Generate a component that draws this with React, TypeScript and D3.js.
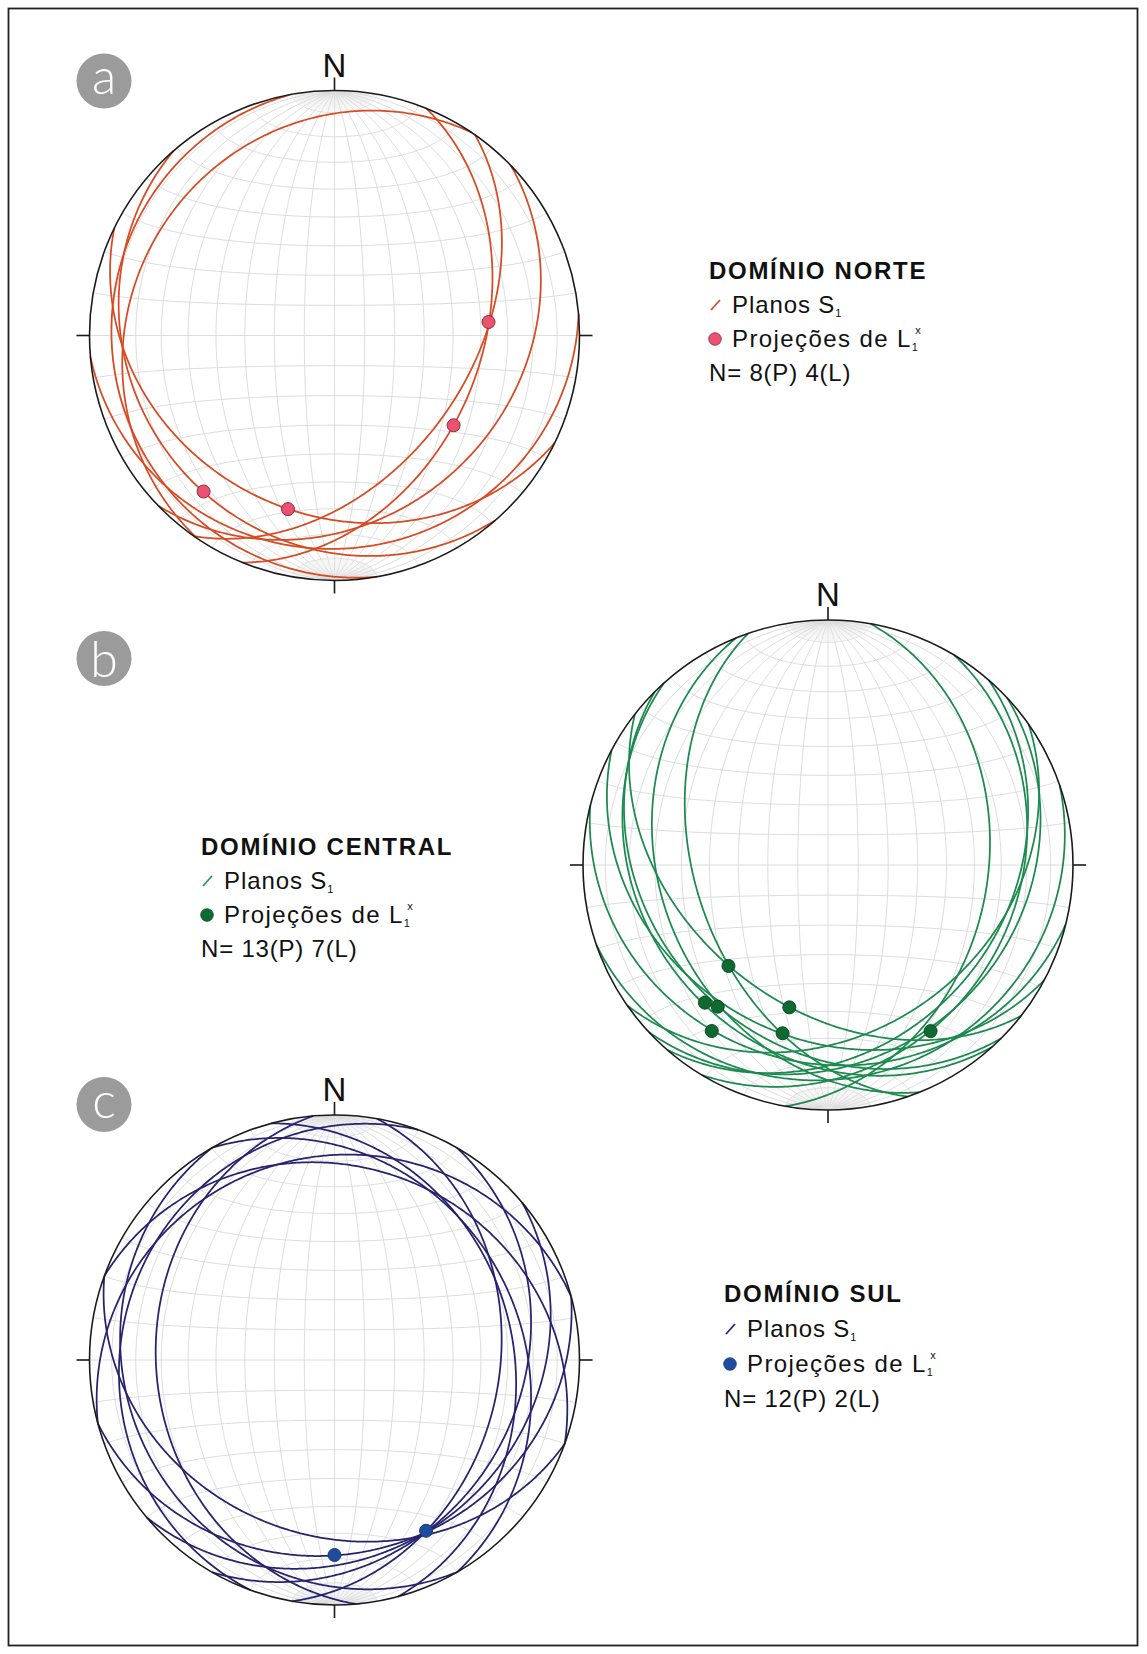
import React from 'react';
import * as d3 from 'd3';

const W = 1147;
const H = 1654;

// ---------- DATA ----------
// Domínio Norte (a): S1 planes as dip direction / dip (degrees)
const norteDipDir = [304, 112, 125, 136, 260, 175, 206, 229];
const norteDip = [18, 40, 44, 27, 10, 14, 28, 18];
// L1x lineations: trend / plunge
const norteLinTrend = [85, 127, 195, 220];
const norteLinPlunge = [37, 39, 27.5, 18];

// Domínio Central (b)
const centralDipDir = [251, 248, 228, 225, 218, 194, 100, 121, 131, 137, 208, 161, 145];
const centralDip = [45, 32, 25, 28, 42, 20, 35, 24, 28, 23, 30, 14, 32];
const centralLinTrend = [224.6, 221.8, 217.9, 195.2, 215, 195.1, 148.3];
const centralLinPlunge = [41.7, 25.6, 27.6, 39.6, 18.4, 29.6, 21.4];

// Domínio Sul (c)
const sulDipDir = [20, 345, 100, 75, 120, 60, 140, 265, 290, 200, 165, 240];
const sulDip = [22, 18, 33, 28, 25, 25, 22, 28, 14, 29, 22, 16];
const sulLinTrend = [180, 151.8];
const sulLinPlunge = [21.5, 22];

const panelLetters = ['a', 'b', 'c'];
const legendTitles = ['DOMÍNIO NORTE', 'DOMÍNIO CENTRAL', 'DOMÍNIO SUL'];
const legendCounts = ['N= 8(P) 4(L)', 'N= 13(P) 7(L)', 'N= 12(P) 2(L)'];

// ---------- GEOMETRY ----------
const rad = Math.PI / 180;
type V3 = [number, number, number];

// lower-hemisphere equal-area (Schmidt) projection onto unit disk, y down
function proj(v: V3): [number, number] {
  let [e, n, d] = v;
  if (d < 0) { e = -e; n = -n; d = -d; }
  const k = 1 / Math.sqrt(1 + d);
  return [e * k, -n * k];
}

function planeVectors(dd: number, dip: number): V3[] {
  const s = (dd - 90) * rad;
  const D = dd * rad;
  const dr = dip * rad;
  const sv: V3 = [Math.sin(s), Math.cos(s), 0];
  const dv: V3 = [Math.sin(D) * Math.cos(dr), Math.cos(D) * Math.cos(dr), Math.sin(dr)];
  return d3.range(0, 180.25, 0.5).map((l) => {
    const c = Math.cos(l * rad), si = Math.sin(l * rad);
    return [c * sv[0] + si * dv[0], c * sv[1] + si * dv[1], c * sv[2] + si * dv[2]] as V3;
  });
}

function lineVector(trend: number, plunge: number): V3 {
  return [
    Math.sin(trend * rad) * Math.cos(plunge * rad),
    Math.cos(trend * rad) * Math.cos(plunge * rad),
    Math.sin(plunge * rad),
  ];
}

function meridian(delta: number, from: number, to: number): V3[] {
  return d3.range(from, to + 0.001, 1).map((l) => [
    Math.sin(l * rad) * Math.cos(delta * rad),
    Math.cos(l * rad),
    Math.sin(l * rad) * Math.sin(delta * rad),
  ] as V3);
}

function parallel(phi: number): V3[] {
  return d3.range(0, 180.001, 1).map((p) => [
    Math.sin(phi * rad) * Math.cos(p * rad),
    Math.cos(phi * rad),
    Math.sin(phi * rad) * Math.sin(p * rad),
  ] as V3);
}

type NetProps = {
  cx: number; cy: number; R: number;
  dipDir: number[]; dip: number[];
  linTrend: number[]; linPlunge: number[];
  lineColor: string; dotFill: string; dotStroke: string; dotR: number;
};

function Stereonet(p: NetProps) {
  const { cx, cy, R } = p;
  const sx = d3.scaleLinear().domain([-1, 1]).range([cx - R, cx + R]);
  const sy = d3.scaleLinear().domain([-1, 1]).range([cy - R, cy + R]);
  const line = d3.line<[number, number]>().x((d) => sx(d[0])).y((d) => sy(d[1]));
  const toPath = (vs: V3[]) => line(vs.map(proj)) || '';

  const major: string[] = [];
  const minor: string[] = [];
  d3.range(10, 171, 10).forEach((dl) => major.push(toPath(meridian(dl, 0, 180))));
  d3.range(10, 171, 10).forEach((ph) => major.push(toPath(parallel(ph))));
  d3.range(2, 179, 2).filter((dl) => dl % 10 !== 0).forEach((dl) => {
    minor.push(toPath(meridian(dl, 1.5, 10)));
    minor.push(toPath(meridian(dl, 170, 178.5)));
  });

  const tick = 13;
  return (
    <g>
      <circle cx={cx} cy={cy} r={R} fill="#ffffff" />
      {minor.map((d, i) => (
        <path key={'m' + i} d={d} fill="none" stroke="#dedede" strokeWidth={0.35} />
      ))}
      {major.map((d, i) => (
        <path key={'g' + i} d={d} fill="none" stroke="#d8d8d8" strokeWidth={0.9} />
      ))}
      {p.dipDir.map((dd, i) => (
        <path key={'p' + i} d={toPath(planeVectors(dd, p.dip[i]))} fill="none"
          stroke={p.lineColor} strokeWidth={1.75} />
      ))}
      <circle cx={cx} cy={cy} r={R} fill="none" stroke="#1a1a1a" strokeWidth={1.6} />
      <line x1={cx} x2={cx} y1={cy - R} y2={cy - R - tick} stroke="#1a1a1a" strokeWidth={1.6} />
      <line x1={cx} x2={cx} y1={cy + R} y2={cy + R + tick} stroke="#1a1a1a" strokeWidth={1.6} />
      <line x1={cx - R} x2={cx - R - tick} y1={cy} y2={cy} stroke="#1a1a1a" strokeWidth={1.6} />
      <line x1={cx + R} x2={cx + R + tick} y1={cy} y2={cy} stroke="#1a1a1a" strokeWidth={1.6} />
      <text x={cx} y={cy - R - tick - 1} textAnchor="middle" fontSize={33}
        fontFamily="Arial, 'Liberation Sans', sans-serif" fill="#111">N</text>
      {p.linTrend.map((t, i) => {
        const [x, y] = proj(lineVector(t, p.linPlunge[i]));
        return <circle key={'l' + i} cx={sx(x)} cy={sy(y)} r={p.dotR} fill={p.dotFill}
          stroke={p.dotStroke} strokeWidth={1} />;
      })}
    </g>
  );
}

function Badge({ cx, cy, letter }: { cx: number; cy: number; letter: string }) {
  const fs = 50;
  const dy = letter === 'b' ? 0.36 * fs : 0.26 * fs;
  return (
    <g>
      <circle cx={cx} cy={cy} r={27.5} fill="#9b9b9b" />
      <text x={cx} y={cy + dy} textAnchor="middle" fontSize={fs} fontWeight={300}
        fontFamily="Lato, 'Open Sans', sans-serif" fill="#ffffff">{letter}</text>
    </g>
  );
}

type LegendProps = {
  x: number; y: number; gap: number; title: string; count: string;
  lineColor: string; dotFill: string; dotStroke: string;
};

function Legend(p: LegendProps) {
  const font = "Arial, 'Liberation Sans', sans-serif";
  const gap = p.gap;
  const tx = p.x + 23;
  return (
    <g fontFamily={font} fill="#111">
      <text x={p.x} y={p.y} fontSize={24} fontWeight="bold" letterSpacing={1.7}>{p.title}</text>
      <line x1={p.x + 2} y1={p.y + gap - 3} x2={p.x + 11} y2={p.y + gap - 13}
        stroke={p.lineColor} strokeWidth={1.8} />
      <text x={tx} y={p.y + gap} fontSize={24} letterSpacing={0.9}>
        Planos S<tspan fontSize={11} dy={4}>1</tspan>
      </text>
      <circle cx={p.x + 6} cy={p.y + 2 * gap - 8} r={6.3} fill={p.dotFill} stroke={p.dotStroke} strokeWidth={0.8} />
      <text x={tx} y={p.y + 2 * gap} fontSize={24} letterSpacing={1.4}>
        Projeções de L<tspan fontSize={11} dy={4}>1</tspan>
        <tspan fontSize={11} dx={-4} dy={-17}>x</tspan>
      </text>
      <text x={p.x} y={p.y + 3 * gap} fontSize={24} letterSpacing={0.8}>{p.count}</text>
    </g>
  );
}

export default function App() {
  const R = 245;
  return (
    <svg width={W} height={H} viewBox={`0 0 ${W} ${H}`}
      style={{ position: 'absolute', left: 0, top: 0, background: '#ffffff' }}>
      <rect x={0} y={0} width={W} height={H} fill="#ffffff" />
      <rect x={8.5} y={8.5} width={1129} height={1637} fill="none" stroke="#222" strokeWidth={1.8} />

      <Badge cx={104} cy={81} letter={panelLetters[0]} />
      <Badge cx={104} cy={658.5} letter={panelLetters[1]} />
      <Badge cx={104} cy={1104.5} letter={panelLetters[2]} />

      <Stereonet cx={334.5} cy={335.5} R={R} dipDir={norteDipDir} dip={norteDip}
        linTrend={norteLinTrend} linPlunge={norteLinPlunge}
        lineColor="#d84a22" dotFill="#ea5270" dotStroke="#8f2a40" dotR={6.5} />
      <Stereonet cx={828} cy={865} R={R} dipDir={centralDipDir} dip={centralDip}
        linTrend={centralLinTrend} linPlunge={centralLinPlunge}
        lineColor="#1a8a4e" dotFill="#0e6a31" dotStroke="#0a4a22" dotR={6.5} />
      <Stereonet cx={334.5} cy={1360} R={R} dipDir={sulDipDir} dip={sulDip}
        linTrend={sulLinTrend} linPlunge={sulLinPlunge}
        lineColor="#27226f" dotFill="#1f4c9c" dotStroke="#173a78" dotR={6.5} />

      <Legend x={709} y={279} gap={34} title={legendTitles[0]} count={legendCounts[0]}
        lineColor="#d0532c" dotFill="#ea5270" dotStroke="#8f2a40" />
      <Legend x={201} y={855} gap={34} title={legendTitles[1]} count={legendCounts[1]}
        lineColor="#2a9a5c" dotFill="#0e6a31" dotStroke="#0a4a22" />
      <Legend x={724} y={1302} gap={35} title={legendTitles[2]} count={legendCounts[2]}
        lineColor="#2a2378" dotFill="#1f4c9c" dotStroke="#173a78" />
    </svg>
  );
}
